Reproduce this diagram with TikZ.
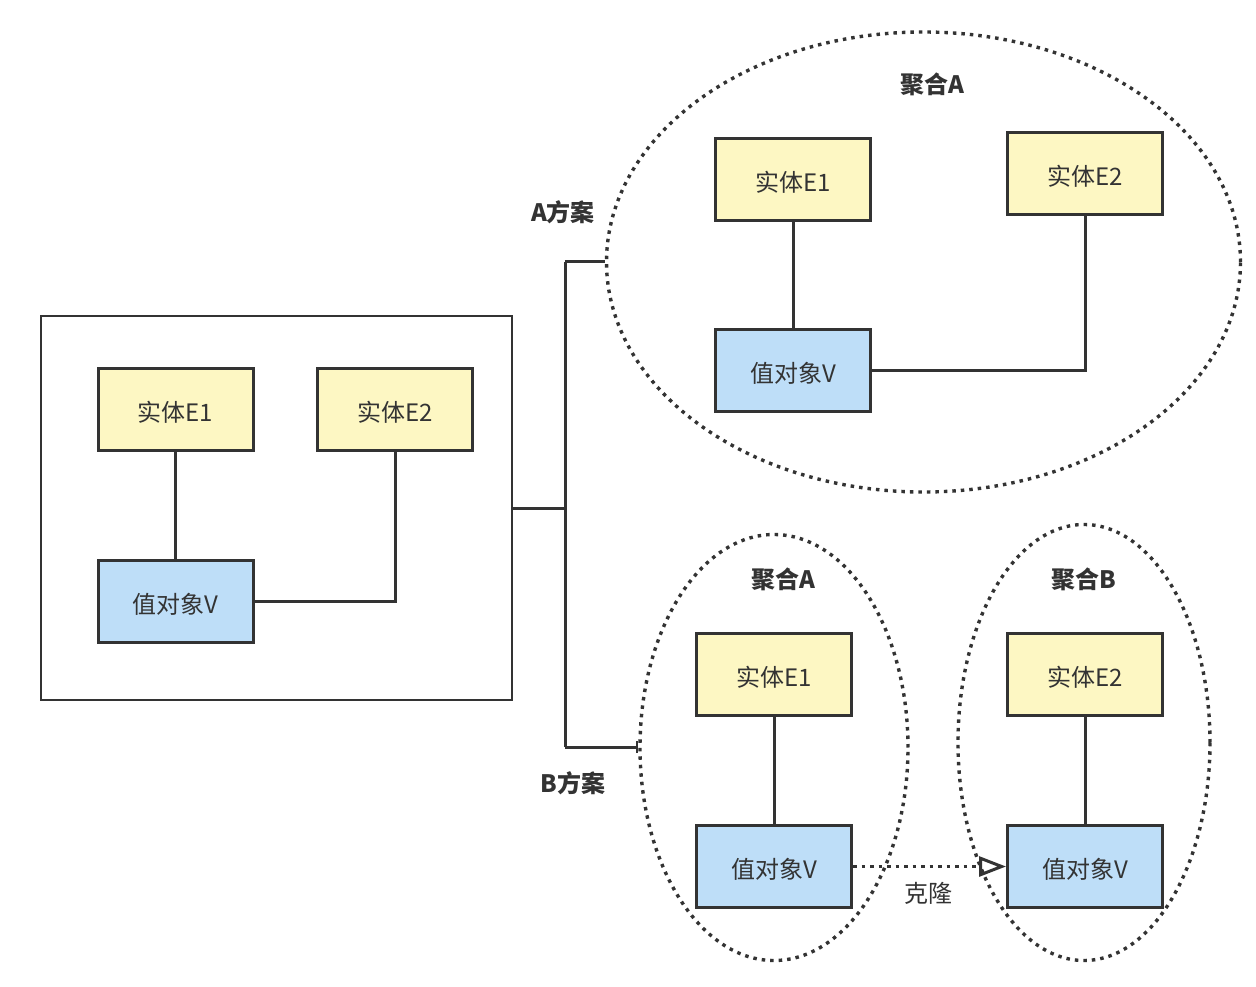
\documentclass[tikz,border=0pt]{standalone}
\usepackage{fontspec}
\setmainfont{Noto Sans CJK SC}
\usetikzlibrary{arrows.meta,shapes.geometric}
\definecolor{ylw}{HTML}{FDF7C3}
\definecolor{blu}{HTML}{BEDEF8}
\definecolor{ink}{HTML}{333333}
\begin{document}
\begin{tikzpicture}[x=1pt,y=-1pt,
  box/.style={draw=ink,line width=3pt,minimum width=155pt,minimum height=82pt,inner sep=0pt,font=\fontsize{24}{28}\selectfont,text=ink,text height=26pt,text depth=2pt},
  ent/.style={box,fill=ylw},
  val/.style={box,fill=blu},
  wire/.style={draw=ink,line width=3pt},
  dots/.style={draw=ink,line width=3.4pt,dash pattern=on 3.5pt off 5pt},
  lbl/.style={font=\bfseries\fontsize{24}{28}\selectfont,text=ink},
  ]
\useasboundingbox (0,0) rectangle (1256,987);
% left block
\node[draw=ink,line width=2.8pt,minimum width=471pt,minimum height=384pt,inner sep=0pt] (L) at (276.5,508) {};
\node[ent] (le1) at (175.5,409.5) {实体E1};
\node[ent] (le2) at (395,409.5) {实体E2};
\node[val] (lv) at (175.5,601) {值对象V};
\draw[wire] (le1) -- (lv);
\draw[wire] (le2.south) |- (lv.east);
% aggregate A (plan A)
\node[dots,ellipse,minimum width=634pt,minimum height=460pt,inner sep=0pt] (EA) at (923.5,262) {};
\node[lbl] (tA) at (932,84) {聚合A};
\node[ent] (ae1) at (793,179.5) {实体E1};
\node[ent] (ae2) at (1085,174) {实体E2};
\node[val] (av) at (793,370.5) {值对象V};
\draw[wire] (ae1) -- (av);
\draw[wire] (ae2.south) |- (av.east);
% plan B ellipses
\node[dots,ellipse,minimum width=268pt,minimum height=426pt,inner sep=0pt] (EB1) at (774,747.5) {};
\node[dots,ellipse,minimum width=252pt,minimum height=436pt,inner sep=0pt] (EB2) at (1084,742.5) {};
\node[lbl] (tB1) at (783,579) {聚合A};
\node[lbl] (tB2) at (1084,579) {聚合B};
\node[ent] (be1) at (774,674.5) {实体E1};
\node[val] (bv1) at (774,866.5) {值对象V};
\node[ent] (be2) at (1085,674.5) {实体E2};
\node[val] (bv2) at (1085,866.5) {值对象V};
\draw[wire] (be1) -- (bv1);
\draw[wire] (be2) -- (bv2);
\draw[dots,-{Triangle[open,length=27pt,width=20pt,line width=3pt]}] (bv1.east) -- (bv2.west);
\node[font=\fontsize{24}{28}\selectfont,text=ink] (clone) at (928,893) {克隆};
% plan bracket
\coordinate (j0) at (565,508);
\coordinate (jt) at (565,262);
\coordinate (jb) at (565,747);
\draw[wire] (L.east |- j0) -- (j0);
\draw[wire] (jt) -- (jb);
\draw[wire] (jt) -- (EA.west |- jt);
\draw[wire,-{Bar[width=12pt,line width=2.5pt]}] (jb) -- (EB1.west |- jb);
\node[lbl] (pA) at (563,212) {A方案};
\node[lbl] (pB) at (573,783) {B方案};
\end{tikzpicture}
\end{document}
